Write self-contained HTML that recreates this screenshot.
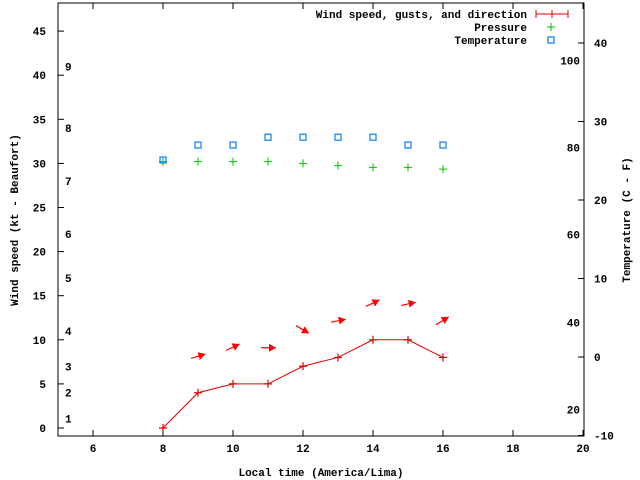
<!DOCTYPE html>
<html><head><meta charset="utf-8"><style>
body{margin:0;background:#fff}
svg{display:block}
text{font-family:"Liberation Mono",monospace;font-size:11px;font-weight:bold;fill:#000}
</style></head><body>
<svg id="c" width="640" height="480"></svg>
<script>
const hours=[8,9,10,11,12,13,14,15,16];
const wind=[0,4,5,5,7,8,10,10,8];
const pressure=[30.2,30.2,30.2,30.2,30.0,29.75,29.55,29.55,29.35];
const temperature=[25.1,27,27,28,28,28,28,27,27];
const arrowHours=[9,10,11,12,13,14,15,16];
const arrowLevel=[7.9,8.8,9.1,11.6,12,13.8,13.9,11.7];
const arrowDir=[16,25,0,-30,11,25,12,32];
const xTicks=[6,8,10,12,14,16,18,20];
const yTicks=[0,5,10,15,20,25,30,35,40,45];
const tTicks=[-10,0,10,20,30,40];
const bftLabels=['1','2','3','4','5','6','7','8','9'];
const bftLevels=[1.1,4,7,11,17,22,28,34,41];
const fLabels=['20','40','60','80','100'];
const fValues=[-6.7,4.4,15.6,26.7,37.8];

const L=58,R=584,T=3,B=436;
const X=v=>163+(v-8)*35;
const Y=v=>428-v*8.82;
const TY=v=>357-v*7.85;
const svg=document.getElementById('c');
const NS='http://www.w3.org/2000/svg';
function mk(tag,attrs,parent){const e=document.createElementNS(NS,tag);for(const k in attrs)e.setAttribute(k,attrs[k]);(parent||svg).appendChild(e);return e;}
function txt(x,y,s,anchor){const t=mk('text',{x:x,y:y,'text-anchor':anchor||'start'});t.textContent=s;return t;}

const frame=mk('rect',{x:L,y:T,width:R-L,height:B-T,fill:'none',stroke:'#000','stroke-width':1});



xTicks.forEach(v=>{
  mk('line',{x1:X(v),y1:B,x2:X(v),y2:B-6,stroke:'#000'});
  mk('line',{x1:X(v),y1:T,x2:X(v),y2:T+6,stroke:'#000'});
  const t=txt(X(v),452,String(v),'middle');
  
  
});
yTicks.forEach(v=>{
  mk('line',{x1:L,y1:Y(v),x2:L+6,y2:Y(v),stroke:'#000'});
  const t=txt(L-12,Y(v)+4,String(v),'end');
  
  
});
tTicks.forEach(v=>{
  mk('line',{x1:R,y1:TY(v),x2:R-6,y2:TY(v),stroke:'#000'});
  const t=txt(R+10,TY(v)+4,String(v),'start');
  
  
});
bftLabels.forEach((s,i)=>{
  const t=txt(65,Y(bftLevels[i])+4,s,'start');
  
  
});
fLabels.forEach((s,i)=>{
  const t=txt(580,TY(fValues[i])+4,s,'end');
  
  
});

let xl=txt(321,476,'Local time (America/Lima)','middle');


let yl=txt(0,0,'Wind speed (kt - Beaufort)','middle');
yl.setAttribute('transform','translate(18,220) rotate(-90)');


let tl=txt(0,0,'Temperature (C - F)','middle');
tl.setAttribute('transform','translate(630,220) rotate(-90)');



const wl=mk('polyline',{points:hours.map((h,i)=>X(h)+','+Y(wind[i])).join(' '),fill:'none',stroke:'#e00000','stroke-width':1});


hours.forEach((h,i)=>{
  const g=mk('path',{d:`M${X(h)-4},${Y(wind[i])}h8M${X(h)},${Y(wind[i])-4}v8`,stroke:'#e00000','stroke-width':1.2});
  
  
});
arrowHours.forEach((h,i)=>{
  const x0=X(h)-7,y0=Y(arrowLevel[i]),a=arrowDir[i]*Math.PI/180,len=15;
  const x1=x0+len*Math.cos(a),y1=y0-len*Math.sin(a);
  const g=mk('g',{});
  
  
  mk('line',{x1:x0,y1:y0,x2:x1,y2:y1,stroke:'#f00','stroke-width':1.2},g);
  const hx=x1-7*Math.cos(a),hy=y1+7*Math.sin(a),px=4*Math.sin(a),py=4*Math.cos(a);
  mk('polygon',{points:`${x1},${y1} ${hx+px},${hy+py} ${hx-px},${hy-py}`,fill:'#f00'},g);
});
hours.forEach((h,i)=>{
  const g=mk('path',{d:`M${X(h)-4},${Y(pressure[i])}h8M${X(h)},${Y(pressure[i])-4}v8`,stroke:'#00c000','stroke-width':1});
  
  
});
hours.forEach((h,i)=>{
  const r=mk('rect',{x:X(h)-3,y:TY(temperature[i])-3,width:6,height:6,fill:'none',stroke:'#0080ff','stroke-width':1.2});
  
  
});
let l1=txt(527,18,'Wind speed, gusts, and direction','end');

let lw=mk('path',{d:'M536,14h32M536,10v8M552,10v8M568,10v8',stroke:'#e00000'});

let l2=txt(527,31,'Pressure','end');

let lp=mk('path',{d:'M547,27h8M551,23v8',stroke:'#00c000'});

let l3=txt(527,44,'Temperature','end');

let lt=mk('rect',{x:548,y:37,width:6,height:6,fill:'none',stroke:'#0080ff','stroke-width':1.2});

</script>
</body></html>
